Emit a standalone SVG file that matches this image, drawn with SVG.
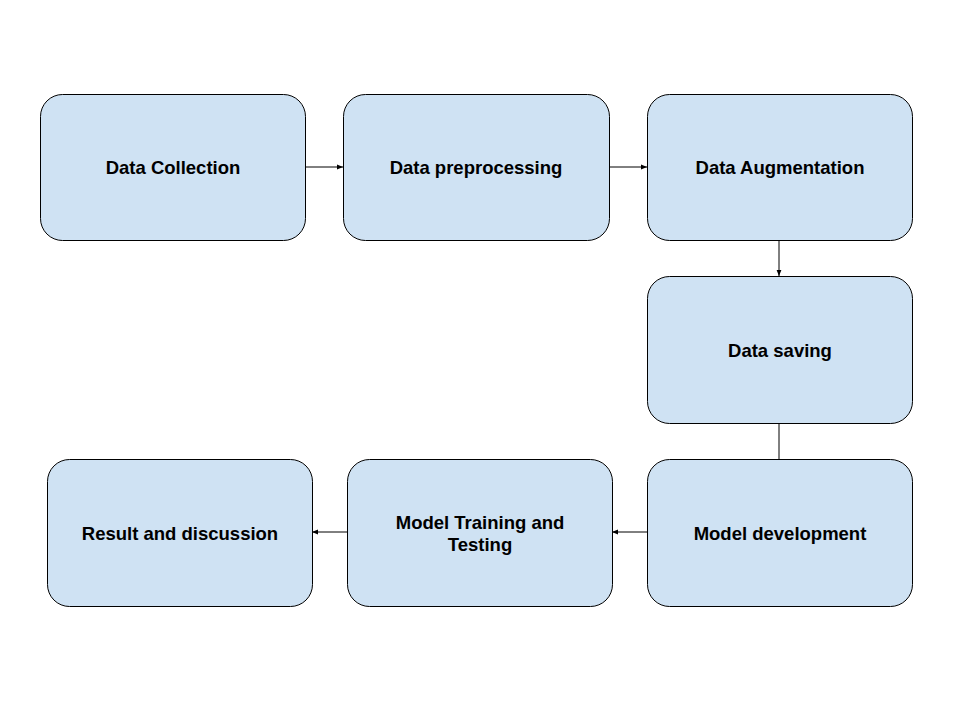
<svg xmlns="http://www.w3.org/2000/svg" width="960" height="720" viewBox="0 0 960 720">
<style>
.box{fill:#cfe2f3;stroke:#000;stroke-width:1}
.lbl{font-family:"Liberation Sans",Arial,sans-serif;font-weight:bold;font-size:18.5px;text-anchor:middle;fill:#000}
.edge{stroke:#000;stroke-width:1;fill:none}
</style>
<defs>
<marker id="ah" viewBox="0 0 10 10" refX="10" refY="5" markerWidth="6" markerHeight="6" orient="auto" markerUnits="userSpaceOnUse">
<path d="M0,1 L10,5 L0,9 z" fill="#000"/>
</marker>
</defs>
<rect width="960" height="720" fill="#fff"/>
<g id="connectors">
<line class="edge" x1="305" y1="167" x2="343" y2="167" marker-end="url(#ah)"/>
<line class="edge" x1="609" y1="167" x2="647" y2="167" marker-end="url(#ah)"/>
<line class="edge" x1="779" y1="240" x2="779" y2="276" marker-end="url(#ah)"/>
<line class="edge" x1="779" y1="423" x2="779" y2="459"/>
<line class="edge" x1="647" y1="532" x2="612" y2="532" marker-end="url(#ah)"/>
<line class="edge" x1="347" y1="532" x2="312" y2="532" marker-end="url(#ah)"/>
</g>
<g id="n1"><rect class="box" x="40.5" y="94.5" width="265" height="146" rx="22"/><text class="lbl" x="173" y="174">Data Collection</text></g>
<g id="n2"><rect class="box" x="343.5" y="94.5" width="266" height="146" rx="22"/><text class="lbl" x="476" y="174">Data preprocessing</text></g>
<g id="n3"><rect class="box" x="647.5" y="94.5" width="265" height="146" rx="22"/><text class="lbl" x="780" y="174">Data Augmentation</text></g>
<g id="n4"><rect class="box" x="647.5" y="276.5" width="265" height="147" rx="22"/><text class="lbl" x="780" y="357">Data saving</text></g>
<g id="n5"><rect class="box" x="647.5" y="459.5" width="265" height="147" rx="22"/><text class="lbl" x="780" y="540">Model development</text></g>
<g id="n6"><rect class="box" x="347.5" y="459.5" width="265" height="147" rx="22"/><text class="lbl" x="480" y="529">Model Training and</text><text class="lbl" x="480" y="551">Testing</text></g>
<g id="n7"><rect class="box" x="47.5" y="459.5" width="265" height="147" rx="22"/><text class="lbl" x="180" y="540">Result and discussion</text></g>
</svg>
